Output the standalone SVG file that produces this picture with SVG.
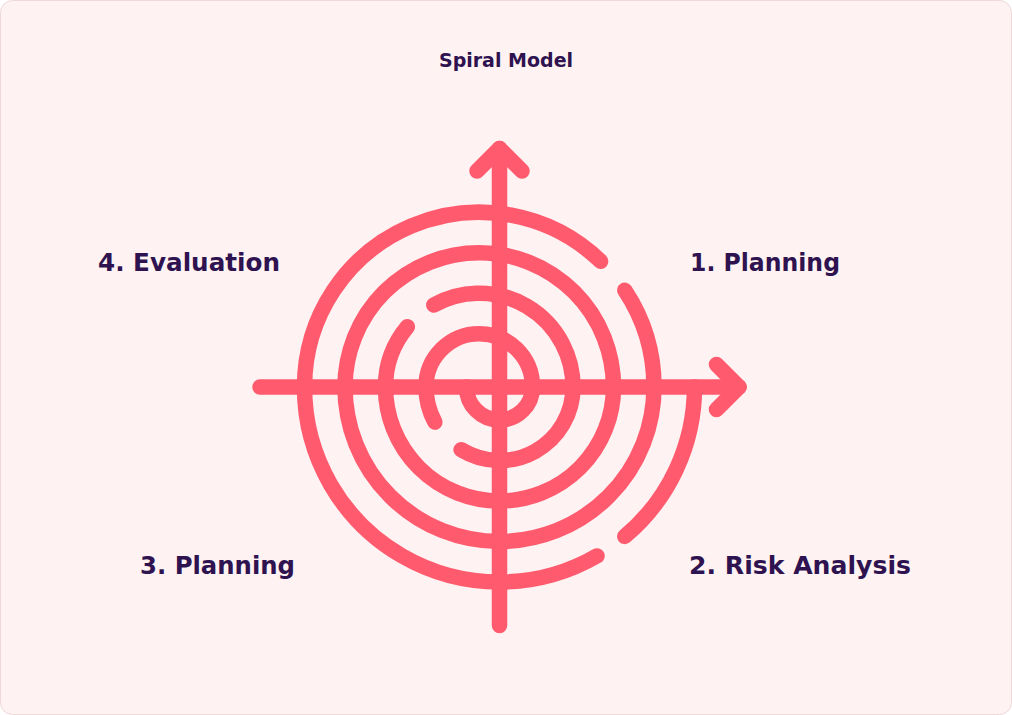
<svg xmlns="http://www.w3.org/2000/svg" width="1012" height="715" viewBox="0 0 1012 715">
  <style>
    .ln { fill: none; stroke: #FF5A6E; stroke-width: 15.5; stroke-linecap: round; stroke-linejoin: round; }
    .lbl { font-family: "DejaVu Sans", "Liberation Sans", sans-serif; font-weight: 700; fill: #2E1350; }
    .big { font-size: 24.5px; }
  </style>
  <rect x="0.5" y="0.5" width="1011" height="714" rx="12" ry="12" fill="#FFF2F2" stroke="#EED8D9" stroke-width="1"/>

  <g id="title">
    <text class="lbl" x="506" y="67" font-size="19" text-anchor="middle">Spiral Model</text>
  </g>

  <g id="spiral">
    <path class="ln" d="M 466.5 387 A 33 33 0 0 0 532.5 387"/>
    <path class="ln" d="M 532.5 387 A 53.25 53.25 0 0 0 426 387"/>
    <path class="ln" d="M 426 387 A 73.5 73.5 0 0 0 434.9 422.1"/>
    <path class="ln" d="M 461.1 449.7 A 73.5 73.5 0 0 0 573 387"/>
    <path class="ln" d="M 573 387 A 93.75 93.75 0 0 0 433.8 305"/>
    <path class="ln" d="M 407.4 326.7 A 93.75 93.75 0 0 0 385.5 387"/>
    <path class="ln" d="M 385.5 387 A 114 114 0 0 0 613.5 387"/>
    <path class="ln" d="M 613.5 387 A 134.25 134.25 0 0 0 345 387"/>
    <path class="ln" d="M 345 387 A 154.5 154.5 0 0 0 654 387"/>
    <path class="ln" d="M 654 387 A 174.75 174.75 0 0 0 624.8 290.3"/>
    <path class="ln" d="M 600.65 261.3 A 174.75 174.75 0 0 0 304.5 387"/>
    <path class="ln" d="M 304.5 387 A 195 195 0 0 0 597 555.9"/>
    <path class="ln" d="M 624.8 536.4 A 195 195 0 0 0 694.5 387"/>
  </g>

  <g id="axes">
    <path class="ln" d="M 260 387 H 739"/>
    <path class="ln" d="M 716.5 364.5 L 739 387 L 716.5 409.5"/>
    <path class="ln" d="M 499.5 148.5 V 625.5"/>
    <path class="ln" d="M 477 171 L 499.5 148.5 L 522 171"/>
  </g>

  <g id="label-evaluation">
    <text class="lbl big" x="98" y="271" textLength="182" lengthAdjust="spacingAndGlyphs">4. Evaluation</text>
  </g>
  <g id="label-planning-1">
    <text class="lbl big" x="690" y="271" textLength="150" lengthAdjust="spacingAndGlyphs">1. Planning</text>
  </g>
  <g id="label-planning-3">
    <text class="lbl big" x="140" y="574" textLength="155" lengthAdjust="spacingAndGlyphs">3. Planning</text>
  </g>
  <g id="label-risk">
    <text class="lbl big" x="689" y="574" textLength="222" lengthAdjust="spacingAndGlyphs">2. Risk Analysis</text>
  </g>
</svg>
